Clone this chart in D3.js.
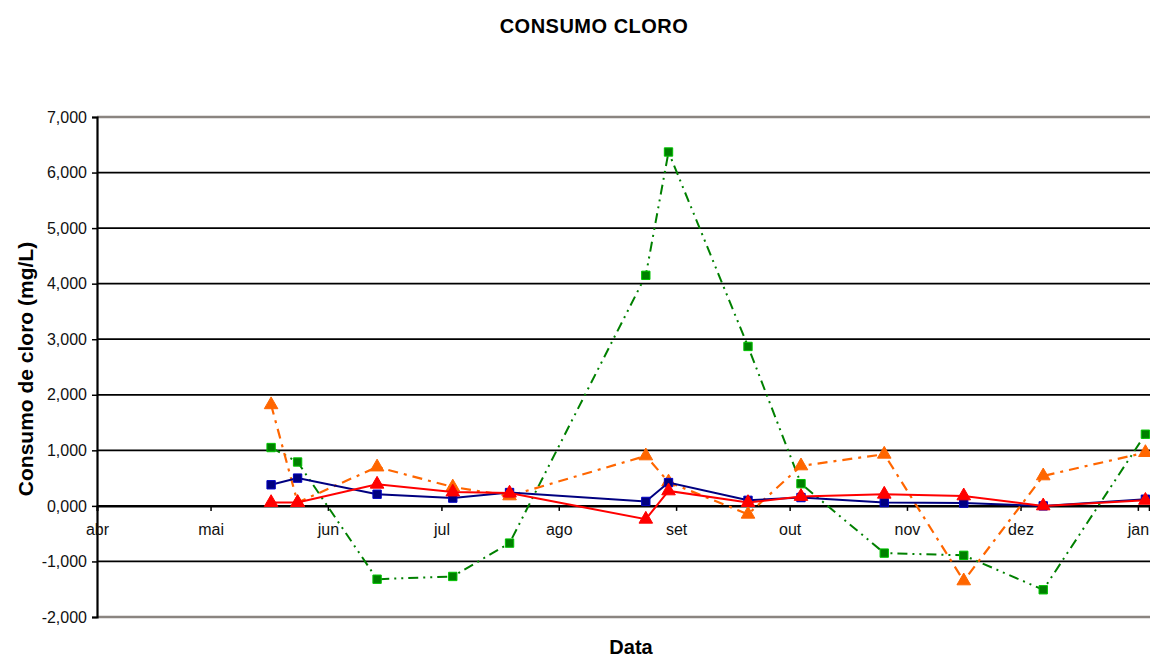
<!DOCTYPE html>
<html><head><meta charset="utf-8">
<script src="https://cdn.jsdelivr.net/npm/d3@7"></script>
<style>body{margin:0;background:#fff}svg{display:block;font-family:"Liberation Sans",Arial,sans-serif}</style>
</head><body><div id="chart"></div>
<script>
const dates = ["2007-05-17","2007-05-24","2007-06-14","2007-07-04","2007-07-19","2007-08-24","2007-08-30","2007-09-20","2007-10-04","2007-10-26","2007-11-16","2007-12-07","2008-01-03"];
const seriesBlue   = [0.38, 0.50, 0.21, 0.14, 0.24, 0.08, 0.42, 0.10, 0.15, 0.06, 0.05, 0.00, 0.12];
const seriesRed    = [0.06, 0.06, 0.39, 0.25, 0.23, -0.24, 0.27, 0.06, 0.17, 0.21, 0.18, 0.00, 0.10];
const seriesOrange = [1.82, 0.06, 0.70, 0.34, 0.18, 0.90, 0.43, -0.15, 0.72, 0.93, -1.35, 0.54, 0.96];
const seriesGreen  = [1.05, 0.79, -1.32, -1.27, -0.67, 4.15, 6.37, 2.87, 0.40, -0.85, -0.89, -1.51, 1.29];
const monthLabels = ["abr","mai","jun","jul","ago","set","out","nov","dez","jan"];
const yTicks = [-2,-1,0,1,2,3,4,5,6,7];

const W = 1150, H = 659;
const svg = d3.select("#chart").append("svg").attr("width", W).attr("height", H);
const parse = d3.utcParse("%Y-%m-%d");
const x = d3.scaleUtc().domain([parse("2007-04-01"), parse("2008-01-04")]).range([97, 1149.2]);
const y = d3.scaleLinear().domain([-2, 7]).range([617, 117]);
const loc = d3.formatLocale({decimal: ",", thousands: ".", grouping: [3], currency: ["", ""], minus: "-"});
const fmt = loc.format(".3f");

// gridlines
svg.append("g").selectAll("line").data(yTicks).join("line")
  .attr("x1", 97).attr("x2", W).attr("y1", d => y(d)).attr("y2", d => y(d))
  .attr("stroke", d => (d === 7 || d === -2) ? "#8a8580" : "#000")
  .attr("stroke-width", d => (d === 7 || d === -2) ? 2.5 : 1.8);

// y axis
const yAxis = d3.axisLeft(y).tickValues(yTicks).tickFormat(fmt).tickSize(5).tickPadding(5);
const gy = svg.append("g").attr("transform", "translate(97,0)").call(yAxis);
gy.select(".domain").attr("stroke", "#000").attr("stroke-width", 2.2);
gy.selectAll(".tick line").attr("stroke", "#000").attr("stroke-width", 1.5);
gy.selectAll("text").attr("font-size", 16).attr("fill", "#111").attr("font-family", "Liberation Sans, Arial, sans-serif");

// x axis at zero
const monthDates = monthLabels.map((m, i) => d3.utcMonth.offset(parse("2007-04-01"), i));
const xAxis = d3.axisBottom(x).tickValues(monthDates).tickFormat((d, i) => monthLabels[i]).tickSize(5).tickPadding(13);
const gx = svg.append("g").attr("transform", `translate(0,${y(0)})`).call(xAxis);
gx.select(".domain").attr("stroke", "#000").attr("stroke-width", 2);
gx.selectAll(".tick line").attr("stroke", "#000").attr("stroke-width", 1.5);
gx.selectAll("text").attr("font-size", 16).attr("fill", "#111").attr("font-family", "Liberation Sans, Arial, sans-serif");

const series = [
  {vals: seriesGreen, color: "#008000", dash: "10,5,2,5,2,5", width: 2, marker: "square"},
  {vals: seriesOrange, color: "#ff6600", dash: "10,6,3,6", width: 2.2, marker: "triangle"},
  {vals: seriesBlue, color: "#000080", dash: null, width: 2, marker: "square"},
  {vals: seriesRed, color: "#ff0000", dash: null, width: 2, marker: "triangle"}
];
const line = d3.line().x(d => x(d[0])).y(d => y(d[1]));
series.forEach(s => {
  const pts = dates.map((d, i) => [parse(d), s.vals[i]]);
  svg.append("path").datum(pts).attr("d", line).attr("fill", "none")
    .attr("stroke", s.color).attr("stroke-width", s.width)
    .attr("stroke-dasharray", s.dash);
  const sym = s.marker === "square" ? d3.symbolSquare : d3.symbolTriangle;
  const size = s.marker === "square" ? 70 : 80;
  svg.append("g").selectAll("path").data(pts).join("path")
    .attr("transform", d => `translate(${x(d[0])},${y(d[1])})`)
    .attr("d", d3.symbol().type(sym).size(size))
    .attr("fill", s.color)
    .attr("stroke", s.marker === "square" ? d3.color(s.color).brighter(1.2) : s.color)
    .attr("stroke-width", 1);
});

// titles
svg.append("text").attr("x", 594).attr("y", 33).attr("text-anchor", "middle")
  .attr("font-size", 20).attr("font-weight", "bold").attr("letter-spacing", 0.5).text("CONSUMO CLORO");
svg.append("text").attr("transform", "translate(33,369) rotate(-90)").attr("text-anchor", "middle")
  .attr("font-size", 21).attr("font-weight", "bold").text("Consumo de cloro (mg/L)");
svg.append("text").attr("x", 631).attr("y", 654).attr("text-anchor", "middle")
  .attr("font-size", 20).attr("font-weight", "bold").text("Data");
</script></body></html>
